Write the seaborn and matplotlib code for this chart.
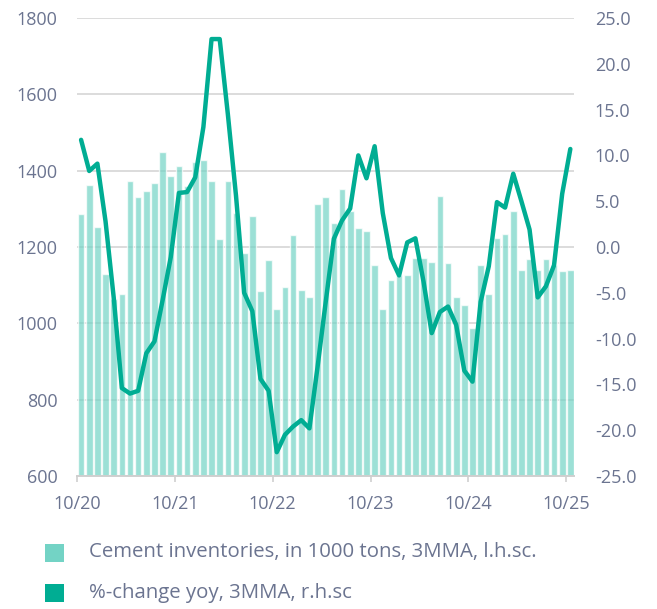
import matplotlib

matplotlib.use("Agg")
import matplotlib.pyplot as plt
import numpy as np
import pandas as pd
import seaborn as sns
from matplotlib.patches import Rectangle

# cement inventories, 1000 tons, 3MMA (l.h.sc.), monthly 10/20 .. 10/25
inventories = [
    1286, 1362, 1253, 1129, 1065, 1077, 1372, 1332, 1347, 1367,
    1449, 1386, 1413, 1360, 1422, 1427, 1373, 1220, 1373, 1290,
    1185, 1282, 1085, 1165, 1037, 1096, 1231, 1088, 1068, 1313,
    1331, 1264, 1352, 1295, 1250, 1242, 1153, 1037, 1113, 1127,
    1127, 1172, 1172, 1162, 1334, 1159, 1069, 1048, 988, 1152,
    1078, 1223, 1235, 1294, 1141, 1169, 1140, 1168, 1153, 1137, 1141,
]
# %-change yoy, 3MMA (r.h.sc)
pct_change = [
    11.7, 8.3, 9.1, 2.8, -5.5, -15.4, -16.0, -15.7, -11.6, -10.3,
    -5.8, -1.1, 5.9, 6.0, 7.6, 13.1, 22.7, 22.7, 14.5, 5.6,
    -5.0, -7.0, -14.4, -15.7, -22.4, -20.5, -19.6, -18.9, -19.8, -13.1,
    -6.0, 0.9, 2.9, 4.2, 10.0, 7.5, 11.0, 3.7, -1.2, -3.1,
    0.5, 0.95, -3.8, -9.4, -7.1, -6.5, -8.5, -13.5, -14.7, -6.0,
    -2.1, 4.9, 4.3, 8.0, 5.0, 1.9, -5.5, -4.3, -2.0, 5.8, 10.7,
]
year_labels = ["10/20", "10/21", "10/22", "10/23", "10/24", "10/25"]
legend_labels = [
    "Cement inventories, in 1000 tons, 3MMA, l.h.sc.",
    "%-change yoy, 3MMA, r.h.sc",
]

BAR_COLOR = "#73d3c5"
LINE_COLOR = "#00ad93"
TEXT_COLOR = "#6b7490"
GRID_COLOR = "#dcdcdc"
W, H = 657, 609

df = pd.DataFrame({
    "month": np.arange(len(inventories)),
    "inventories": inventories,
    "pct": pct_change,
})

sns.set_theme(style="white")
plt.rcParams["font.family"] = ["Open Sans", "DejaVu Sans"]

fig = plt.figure(figsize=(W / 100, H / 100), dpi=100)
ax = fig.add_axes([77 / W, 133 / H, 497 / W, 458 / H])

sns.barplot(data=df, x="month", y="inventories", color=BAR_COLOR,
            saturation=1, alpha=0.7, width=0.82, ax=ax)
ax.set_ylim(600, 1800)
ax.set_yticks(np.arange(600, 1801, 200))
ax.set_xlim(-0.5, 60.45)
ax.set_axisbelow(True)
ax.grid(axis="y", color=GRID_COLOR, linewidth=1.4)
ax.grid(axis="x", visible=False)
ax.set_xlabel("")
ax.set_ylabel("")

tick_pos = [i * 12 - 0.5 for i in range(len(year_labels))]
ax.set_xticks(tick_pos)
ax.set_xticklabels(year_labels)
ax.tick_params(axis="x", length=4.5, width=1.2, color="#cfcfcf", pad=9,
               labelsize=13, labelcolor=TEXT_COLOR, bottom=True)
ax.tick_params(axis="y", length=0, pad=14, labelsize=13, labelcolor=TEXT_COLOR)

for side in ("top", "left", "right"):
    ax.spines[side].set_visible(False)
ax.spines["bottom"].set_color("#cfcfcf")
ax.spines["bottom"].set_linewidth(1.4)

ax2 = ax.twinx()
sns.lineplot(data=df, x="month", y="pct", color=LINE_COLOR, linewidth=3.2,
             ax=ax2)
ax2.set_ylim(-25, 25)
ax2.set_yticks(np.arange(-25, 26, 5))
ax2.set_yticklabels([f"{v:.1f}" for v in np.arange(-25, 26, 5)])
ax2.tick_params(axis="y", length=0, pad=15, labelsize=13, labelcolor=TEXT_COLOR)
ax2.set_ylabel("")
ax2.set_xlabel("")
ax2.grid(False)
for side in ("top", "left", "right", "bottom"):
    ax2.spines[side].set_visible(False)

# legend drawn by hand: square swatches and labels under the plot
for color, label, yc in zip([BAR_COLOR, LINE_COLOR], legend_labels, [552.5, 593]):
    fig.add_artist(Rectangle((45 / W, 1 - (yc + 9) / H), 18.5 / W, 18 / H,
                             transform=fig.transFigure, facecolor=color,
                             edgecolor="none"))
    fig.text(89 / W, 1 - yc / H, label, fontsize=14.7, color=TEXT_COLOR,
             va="center", ha="left")

fig.savefig("out.png", dpi=100)
